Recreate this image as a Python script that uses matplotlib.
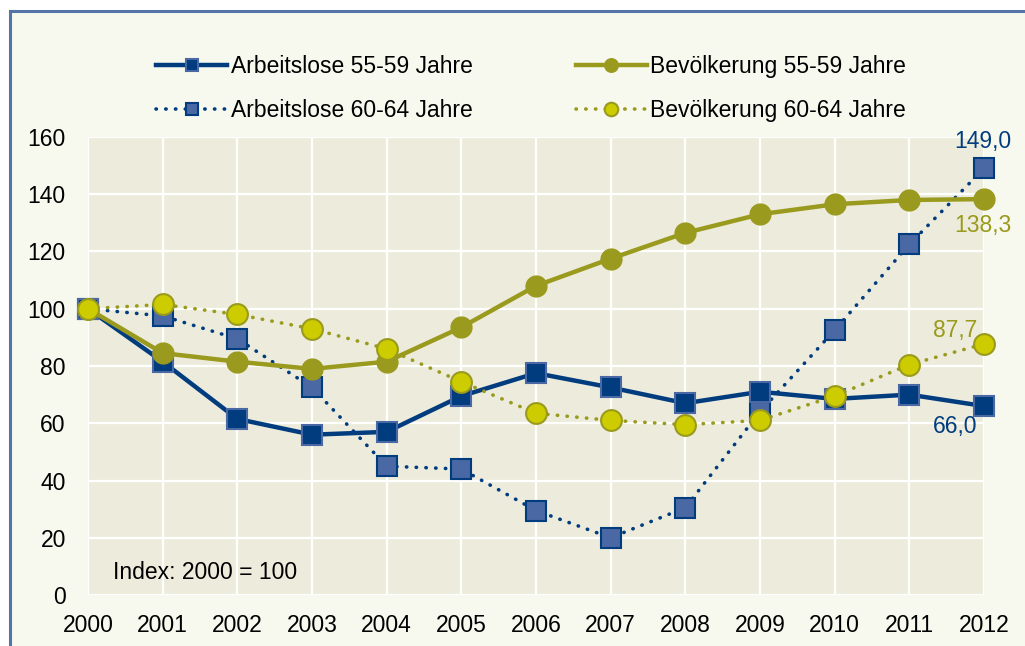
import matplotlib
matplotlib.use('Agg')
import matplotlib.pyplot as plt
from matplotlib.patches import Rectangle

plt.rcParams['font.family'] = ['Liberation Sans', 'DejaVu Sans']

years = [2000, 2001, 2002, 2003, 2004, 2005, 2006, 2007, 2008, 2009, 2010, 2011, 2012]
arb_55_59 = [100, 81.5, 61.5, 56, 57, 69.5, 77.5, 72.5, 67, 71, 68.5, 70, 66.0]
bev_55_59 = [100, 84.5, 81.5, 79, 81.5, 93.5, 108, 117.5, 126.5, 133, 136.5, 138, 138.3]
arb_60_64 = [100, 97.5, 89.5, 72.5, 45, 44, 29.5, 20, 30.5, 64, 92.5, 122.5, 149.0]
bev_60_64 = [100, 101.5, 98, 93, 86, 74.5, 63.5, 61, 59.5, 61, 69.5, 80.5, 87.7]

labels = ['Arbeitslose 55-59 Jahre', 'Bevölkerung 55-59 Jahre',
          'Arbeitslose 60-64 Jahre', 'Bevölkerung 60-64 Jahre']

dblue = '#003c7e'
mblue = '#4a68a3'
olive = '#9a9a1e'
yellow = '#cccc00'
fs = 16.5

fig = plt.figure(figsize=(10.25, 6.46), dpi=100)
fig.patch.set_facecolor('white')
# outer frame
fig.patches.append(Rectangle((10/1025, -0.1), 1.2, 1 - 11/646 + 0.1, transform=fig.transFigure,
                             facecolor='#f7f9ee', edgecolor='#5474a8', lw=2.2, zorder=-10))

ax = fig.add_axes([88/1025, 1 - 595/646, (984 - 88)/1025, (595 - 137)/646])
ax.set_facecolor('#edecdc')
for s in ax.spines.values():
    s.set_visible(False)

dots = (0, (0.1, 2.6))
l2, = ax.plot(years, arb_60_64, color=dblue, lw=2.6, ls=dots, dash_capstyle='round',
              marker='s', ms=14, mfc=mblue, mec=dblue, mew=1.5, clip_on=False, zorder=3)
l1, = ax.plot(years, arb_55_59, color=dblue, lw=3.2, marker='s', ms=14,
              mfc=dblue, mec=mblue, mew=1.5, clip_on=False, zorder=4)
l3, = ax.plot(years, bev_55_59, color=olive, lw=3.2, marker='o', ms=15,
              mfc=olive, mec=olive, clip_on=False, zorder=5)
l4, = ax.plot(years, bev_60_64, color=olive, lw=2.6, ls=dots, dash_capstyle='round',
              marker='o', ms=15, mfc=yellow, mec=olive, mew=1.5, clip_on=False, zorder=6)

ax.set_xlim(2000, 2012)
ax.set_ylim(0, 160)
ax.set_xticks(years)
ax.set_yticks(range(0, 161, 20))
ax.tick_params(length=0, labelsize=fs, colors='black')
ax.tick_params(axis='x', pad=14)
ax.tick_params(axis='y', pad=16)
ax.grid(True, color='white', lw=1.6)
ax.set_axisbelow(True)

ax.text(2000.33, 8, 'Index: 2000 = 100', fontsize=fs, va='center', ha='left')

ax.annotate('149,0', (2012, arb_60_64[-1]), xytext=(-1, 19.5), textcoords='offset points',
            ha='center', va='center', color=dblue, fontsize=fs)
ax.annotate('138,3', (2012, bev_55_59[-1]), xytext=(-1, -18.7), textcoords='offset points',
            ha='center', va='center', color=olive, fontsize=fs)
ax.annotate('87,7', (2012, bev_60_64[-1]), xytext=(-21, 10), textcoords='offset points',
            ha='center', va='center', color=olive, fontsize=fs)
ax.annotate('66,0', (2012, arb_55_59[-1]), xytext=(-21, -15), textcoords='offset points',
            ha='center', va='center', color=dblue, fontsize=fs)

fig.legend([l1, l2, l3, l4], [labels[0], labels[2], labels[1], labels[3]],
           ncol=2, loc='center', bbox_to_anchor=(531/1025, 1 - 88.5/646),
           frameon=False, fontsize=fs, handlelength=3.1, handletextpad=0.15,
           columnspacing=4.5, labelspacing=0.95, markerscale=0.65)

fig.savefig('out.png', dpi=100)
